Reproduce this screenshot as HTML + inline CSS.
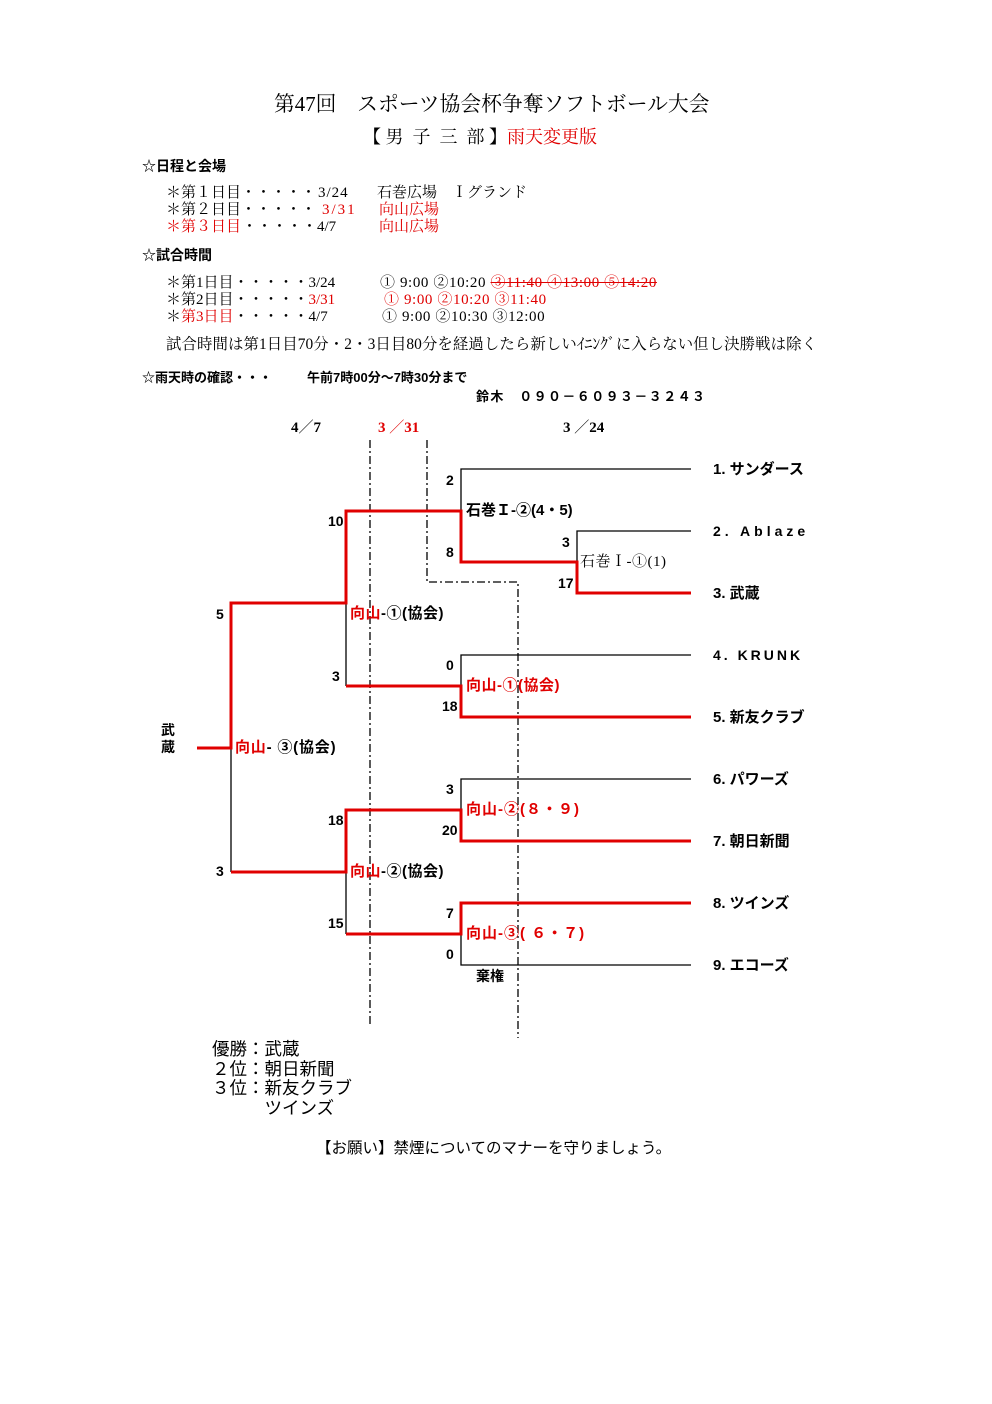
<!DOCTYPE html>
<html><head><meta charset="utf-8"><style>
body{margin:0;width:992px;height:1404px;background:#fff;position:relative;overflow:hidden;font-family:"Liberation Serif","Noto Serif CJK SC",serif;color:#000}
.t{position:absolute;white-space:nowrap;line-height:1}
.s{font-family:"Liberation Sans","Noto Sans CJK JP",sans-serif}
.b{font-weight:bold}
.r{color:#e00000}
.f14{font-size:14px}.f15{font-size:15px}
svg{position:absolute;left:0;top:0}
</style></head><body>
<div class="t" style="left:274px;top:95px;font-size:20.8px">第47回　スポーツ協会杯争奪ソフトボール大会</div>
<div class="t" style="left:363px;top:128px;font-size:18px">【 男&nbsp; 子&nbsp; 三&nbsp; 部 】<span class="r">雨天変更版</span></div>
<div class="t s b" style="left:142px;top:159px;font-size:14px">☆日程と会場</div>
<div class="t f15" style="left:166px;top:186px">＊第１日目・・・・・</div><div class="t f15" style="left:318px;top:186px;letter-spacing:1px">3/24</div><div class="t f15" style="left:377px;top:186px">石巻広場　Ｉグランド</div>
<div class="t f15" style="left:166px;top:203px">＊第２日目・・・・・</div><div class="t f15 r" style="left:322px;top:203px;letter-spacing:2px">3/31</div><div class="t f15 r" style="left:379px;top:203px">向山広場</div>
<div class="t f15 r" style="left:166px;top:220px">＊第３日目</div><div class="t f15" style="left:242px;top:220px">・・・・・4/7</div><div class="t f15 r" style="left:379px;top:220px">向山広場</div>
<div class="t s b" style="left:142px;top:248px;font-size:14px">☆試合時間</div>
<div class="t f15" style="left:166px;top:276px">＊第1日目・・・・・3/24</div>
<div class="t f15" style="left:380px;top:276px;letter-spacing:0.6px">① 9:00 ②10:20 <span class="r" style="text-decoration:line-through">③11:40 ④13:00 ⑤14:20</span></div>
<div class="t f15" style="left:166px;top:293px">＊第2日目・・・・・<span class="r">3/31</span></div>
<div class="t f15 r" style="left:384px;top:293px;letter-spacing:0.6px">① 9:00 ②10:20 ③11:40</div>
<div class="t f15" style="left:166px;top:310px">＊<span class="r">第3日目</span>・・・・・4/7</div>
<div class="t f15" style="left:382px;top:310px;letter-spacing:0.6px">① 9:00 ②10:30 ③12:00</div>
<div class="t" style="left:166px;top:337px;font-size:15.4px;letter-spacing:0.1px">試合時間は第1日目70分・2・3日目80分を経過したら新しいｲﾆﾝｸﾞに入らない但し決勝戦は除く</div>
<div class="t s b" style="left:142px;top:371px;font-size:13px">☆雨天時の確認・・・</div>
<div class="t s b" style="left:307px;top:371px;font-size:13px">午前7時00分～7時30分まで</div>
<div class="t s b" style="left:476px;top:390px;font-size:13px;letter-spacing:1.4px">鈴木　０９０－６０９３－３２４３</div>

<div class="t b f15" style="left:291px;top:421px">4／7</div>
<div class="t b f15 r" style="left:378px;top:421px">3 ／31</div>
<div class="t b f15" style="left:563px;top:421px">3 ／24</div>

<svg width="992" height="1404">
<g fill="none" stroke="#000" stroke-width="1.3" stroke-dasharray="8,3,2,3">
<line x1="370" y1="440" x2="370" y2="1025"/>
<polyline points="427,440 427,582 518,582 518,1038"/>
</g>
<g fill="none" stroke="#000" stroke-width="1.3">
<polyline points="691,469 461,469 461,511"/>
<polyline points="691,531 577,531 577,562"/>
<polyline points="691,655 461,655 461,686"/>
<polyline points="346,603 346,686"/>
<polyline points="691,779 461,779 461,810"/>
<polyline points="691,965 461,965 461,934"/>
<polyline points="346,872 346,934"/>
<polyline points="231,748 231,872"/>
</g>
<g fill="none" stroke="#e00000" stroke-width="3">
<polyline points="691,593 577,593 577,562 461,562 461,511 346,511 346,603 231,603 231,748 197,748"/>
<polyline points="691,717 461,717 461,686 346,686"/>
<polyline points="691,841 461,841 461,810 346,810 346,872 231,872"/>
<polyline points="691,903 461,903 461,934 346,934"/>
</g>
</svg>

<div class="t s b f15" style="left:713px;top:462px">1. サンダース</div>
<div class="t s b f14" style="left:713px;top:524px;letter-spacing:4px">2. Ablaze</div>
<div class="t s b f15" style="left:713px;top:586px">3. 武蔵</div>
<div class="t s b f14" style="left:713px;top:648px;letter-spacing:3px">4. KRUNK</div>
<div class="t s b f15" style="left:713px;top:710px">5. 新友クラブ</div>
<div class="t s b f15" style="left:713px;top:772px">6. パワーズ</div>
<div class="t s b f15" style="left:713px;top:834px">7. 朝日新聞</div>
<div class="t s b f15" style="left:713px;top:896px">8. ツインズ</div>
<div class="t s b f15" style="left:713px;top:958px">9. エコーズ</div>

<div class="t s b f14" style="left:446px;top:473px">2</div>
<div class="t s b f14" style="left:446px;top:545px">8</div>
<div class="t s b f14" style="left:562px;top:535px">3</div>
<div class="t s b f14" style="left:558px;top:576px">17</div>
<div class="t s b f14" style="left:328px;top:514px">10</div>
<div class="t s b f14" style="left:216px;top:607px">5</div>
<div class="t s b f14" style="left:332px;top:669px">3</div>
<div class="t s b f14" style="left:446px;top:658px">0</div>
<div class="t s b f14" style="left:442px;top:699px">18</div>
<div class="t s b f14" style="left:446px;top:782px">3</div>
<div class="t s b f14" style="left:442px;top:823px">20</div>
<div class="t s b f14" style="left:328px;top:813px">18</div>
<div class="t s b f14" style="left:216px;top:864px">3</div>
<div class="t s b f14" style="left:328px;top:916px">15</div>
<div class="t s b f14" style="left:446px;top:906px">7</div>
<div class="t s b f14" style="left:446px;top:947px">0</div>

<div class="t s b f15" style="left:466px;top:503px">石巻Ｉ-②(4・5)</div>
<div class="t f15" style="left:580px;top:555px;letter-spacing:0.5px">石巻Ｉ-①(1)</div>
<div class="t s b f15" style="left:350px;top:606px;letter-spacing:0.5px"><span class="r">向山</span>-①(協会)</div>
<div class="t s b f15 r" style="left:466px;top:678px;letter-spacing:0.5px">向山-①(協会)</div>
<div class="t s b f15" style="left:235px;top:740px;letter-spacing:0.8px"><span class="r">向山</span>- ③(協会)</div>
<div class="t s b f15 r" style="left:466px;top:802px;letter-spacing:1px">向山-②(８・９)</div>
<div class="t s b f15" style="left:350px;top:864px;letter-spacing:0.5px"><span class="r">向山</span>-②(協会)</div>
<div class="t s b f15 r" style="left:466px;top:926px;letter-spacing:1px">向山-③( ６・７)</div>
<div class="t s b f14" style="left:476px;top:969px">棄権</div>
<div class="t s b f14" style="left:161px;top:722px;line-height:17px">武<br>蔵</div>

<div class="t s" style="left:212px;top:1040px;font-size:17.5px;line-height:19.5px">優勝：武蔵<br>２位：朝日新聞<br>３位：新友クラブ<br>　　　ツインズ</div>
<div class="t s" style="left:316px;top:1141px;font-size:15.5px">【お願い】禁煙についてのマナーを守りましょう。</div>
</body></html>
